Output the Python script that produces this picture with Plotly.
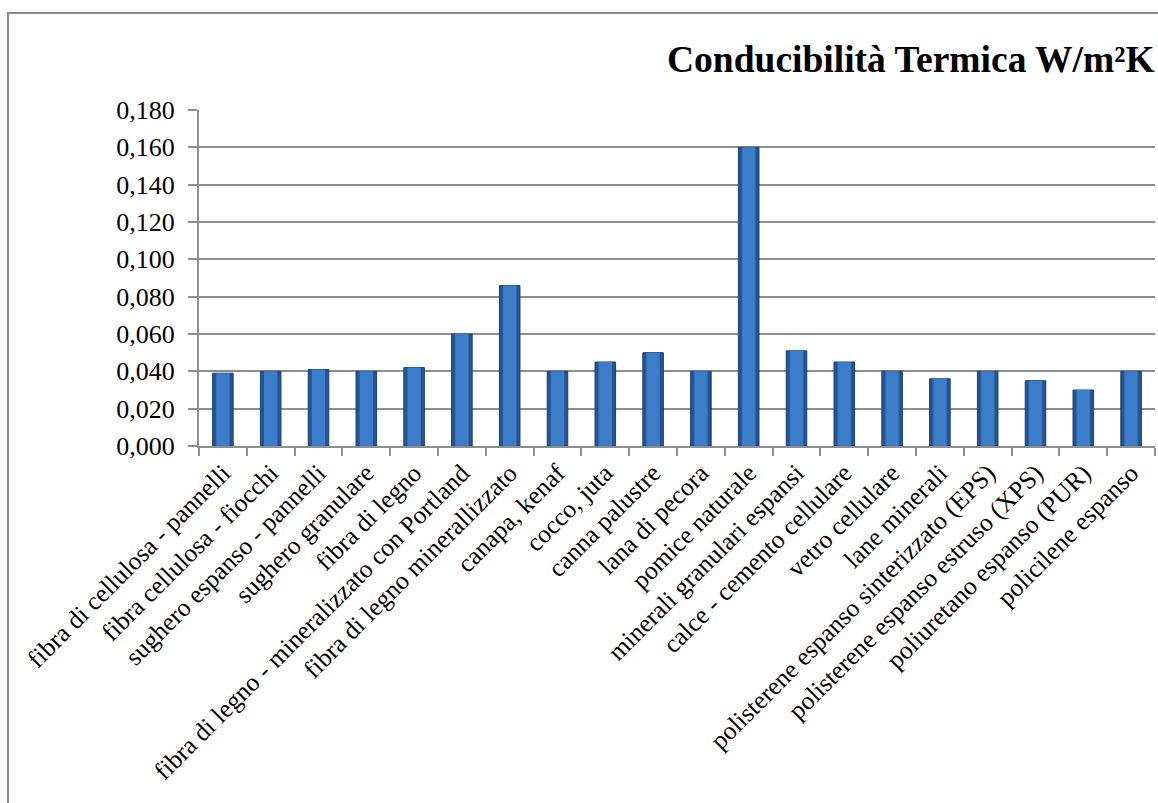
import plotly.graph_objects as go

# Materials and their thermal conductivity (W/m²K)
materiali = [
    "fibra di cellulosa - pannelli",
    "fibra cellulosa - fiocchi",
    "sughero espanso - pannelli",
    "sughero granulare",
    "fibra di legno",
    "fibra di legno - mineralizzato con Portland",
    "fibra di legno minerallizzato",
    "canapa, kenaf",
    "cocco, juta",
    "canna palustre",
    "lana di pecora",
    "pomice naturale",
    "minerali granulari espansi",
    "calce - cemento cellulare",
    "vetro cellulare",
    "lane minerali",
    "polisterene espanso sinterizzato (EPS)",
    "polisterene espanso estruso (XPS)",
    "poliuretano espanso (PUR)",
    "policilene espanso",
]
conducibilita = [
    0.039, 0.040, 0.041, 0.040, 0.042, 0.060, 0.086, 0.040, 0.045, 0.050,
    0.040, 0.160, 0.051, 0.045, 0.040, 0.036, 0.040, 0.035, 0.030, 0.040,
]
y_ticks = [0.0, 0.02, 0.04, 0.06, 0.08, 0.10, 0.12, 0.14, 0.16, 0.18]

W, H = 1158, 803
L, R, T, B = 199, 3, 110, 357
pw, ph = W - L - R, H - T - B

serif = "Liberation Serif, Times New Roman, serif"

fig = go.Figure()
# darker outer body of each column
fig.add_trace(go.Bar(
    x=materiali, y=conducibilita, width=0.43,
    marker=dict(color="#24558f", line=dict(color="#1b4272", width=1)),
    hoverinfo="x+y",
))
# lighter centre face
fig.add_trace(go.Bar(
    x=materiali, y=conducibilita, width=0.28,
    marker=dict(color="#3d7cc8", line=dict(width=0)),
    hoverinfo="skip",
))

grid_col = "#8e8e8e"
fig.update_layout(
    width=W, height=H,
    margin=dict(l=L, r=R, t=T, b=B, autoexpand=False),
    paper_bgcolor="white", plot_bgcolor="white",
    barmode="overlay", showlegend=False,
    separators=",.",
    font=dict(family=serif, size=26, color="black"),
    xaxis=dict(
        type="category", tickangle=-45, tickson="boundaries",
        ticks="outside", ticklen=8, tickcolor=grid_col, tickwidth=2,
        showline=True, linecolor=grid_col, linewidth=2,
        showgrid=False, automargin=False,
        tickfont=dict(size=25.5),
    ),
    yaxis=dict(
        range=[0, 0.18], tickvals=y_ticks, tickformat=".3f",
        ticks="outside", ticklen=9, tickcolor=grid_col, tickwidth=2,
        showline=True, linecolor=grid_col, linewidth=2,
        showgrid=True, gridcolor=grid_col, gridwidth=2,
        zeroline=False, automargin=False,
        ticklabelstandoff=8,
        tickfont=dict(size=26),
    ),
    shapes=[dict(
        type="rect", xref="paper", yref="paper",
        x0=(8 - L) / pw, x1=(W + 10 - L) / pw,
        y0=(H - B - (H + 10)) / ph, y1=(H - B - 13) / ph,
        line=dict(color="#8a8a8a", width=2), fillcolor="rgba(0,0,0,0)",
        layer="below",
    )],
    annotations=[dict(
        text="<b>Conducibilità Termica W/m²K</b>",
        xref="paper", yref="paper",
        x=(1157 - L) / pw, y=(H - B - 59) / ph,
        xanchor="right", yanchor="middle", showarrow=False,
        font=dict(size=37.5, family=serif, color="black"),
    )],
)

fig.write_html("out.html")
